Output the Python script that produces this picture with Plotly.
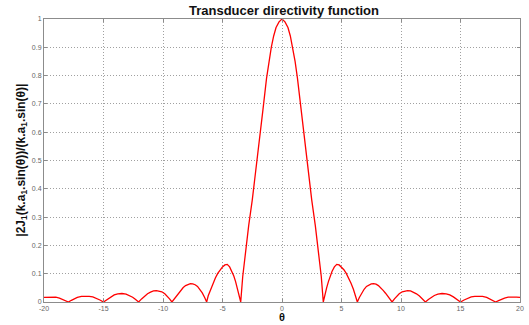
import plotly.graph_objects as go

# Directivity samples for theta >= 0 (degrees); the pattern is symmetric about 0
theta_half = [
    0.0, 0.25, 0.5, 0.7, 0.9, 1.1, 1.3, 1.6, 1.9, 2.2, 2.5, 2.8, 3.1, 3.3, 3.47,
    3.6, 3.75, 3.9, 4.05, 4.2, 4.4, 4.6, 4.8, 5.0, 5.2, 5.4, 5.6, 5.8, 6.0, 6.2, 6.33,
    6.5, 6.7, 6.9, 7.1, 7.3, 7.5, 7.7, 7.9, 8.1, 8.3, 8.5, 8.7, 8.9, 9.1, 9.25,
    9.45, 9.65, 9.85, 10.1, 10.3, 10.55, 10.8, 11.05, 11.3, 11.55, 11.8, 12.05,
    12.3, 12.55, 12.8, 13.1, 13.45, 13.8, 14.1, 14.4, 14.7, 15.0,
    15.3, 15.6, 15.9, 16.2, 16.5, 16.85, 17.2, 17.45, 17.7, 17.95,
    18.2, 18.45, 18.7, 19.0, 19.4, 19.7, 20.0,
]
directivity_half = [
    1.0, 0.99, 0.97, 0.94, 0.9, 0.85, 0.79, 0.68, 0.57, 0.46, 0.36, 0.27, 0.17, 0.09, 0.0,
    0.026, 0.05, 0.072, 0.092, 0.108, 0.124, 0.133, 0.131, 0.124, 0.114, 0.101, 0.085, 0.066, 0.045, 0.022, 0.0,
    0.016, 0.032, 0.045, 0.055, 0.061, 0.064, 0.065, 0.063, 0.058, 0.051, 0.041, 0.031, 0.019, 0.008, 0.0,
    0.011, 0.021, 0.029, 0.036, 0.039, 0.040, 0.039, 0.035, 0.029, 0.021, 0.011, 0.0,
    0.009, 0.017, 0.023, 0.028, 0.030, 0.029, 0.025, 0.018, 0.009, 0.0,
    0.007, 0.013, 0.018, 0.020, 0.021, 0.020, 0.016, 0.011, 0.006, 0.0,
    0.005, 0.010, 0.014, 0.017, 0.018, 0.017, 0.016,
]

x_ticks = [-20, -15, -10, -5, 0, 5, 10, 15, 20]
y_ticks = [0, 0.1, 0.2, 0.3, 0.4, 0.5, 0.6, 0.7, 0.8, 0.9, 1]
y_tick_text = ["0", "0.1", "0.2", "0.3", "0.4", "0.5", "0.6", "0.7", "0.8", "0.9", "1"]

title_text = "Transducer directivity function"
x_label = "θ"
y_label = "|2J<sub>1</sub>(k.a<sub>1</sub>.sin(θ))/(k.a<sub>1</sub>.sin(θ)|"

# Mirror the half pattern onto negative angles
theta = [-t for t in reversed(theta_half[1:])] + theta_half
directivity = list(reversed(directivity_half[1:])) + directivity_half

FONT = "Arial, Liberation Sans, sans-serif"

fig = go.Figure()
fig.add_trace(go.Scatter(
    x=theta, y=directivity, mode="lines",
    line=dict(color="#ff0000", width=1.3),
    hoverinfo="skip", showlegend=False,
))

axis_common = dict(
    showline=True, mirror="ticks", linecolor="#8c8c8c", linewidth=1,
    showgrid=True, gridcolor="#a0a0a0", griddash="1px,2px", gridwidth=1,
    ticks="inside", ticklen=3, tickcolor="#8c8c8c",
    tickfont=dict(family=FONT, size=7, color="#666666"),
    zeroline=False,
)

fig.update_layout(
    width=529, height=325,
    margin=dict(l=44, r=5, t=19, b=23),
    paper_bgcolor="white", plot_bgcolor="white",
    title=dict(
        text="<b>" + title_text + "</b>",
        font=dict(family=FONT, size=13, color="#111111"),
        x=(44 + 524) / 2 / 529, xanchor="center",
        y=1 - 10 / 325, yanchor="middle", yref="container",
    ),
    xaxis=dict(range=[-20, 20], tickvals=x_ticks,
               ticktext=[str(v) for v in x_ticks], **axis_common),
    yaxis=dict(range=[0, 1], tickvals=y_ticks, ticktext=y_tick_text, **axis_common),
    annotations=[
        dict(text="<b>" + y_label + "</b>", textangle=-90,
             xref="paper", yref="paper", x=-23 / 480, y=0.5,
             xanchor="center", yanchor="middle", showarrow=False,
             font=dict(family=FONT, size=12, color="#111111")),
        dict(text="<b>" + x_label + "</b>",
             xref="paper", yref="paper", x=0.5, y=-15 / 283,
             xanchor="center", yanchor="middle", showarrow=False,
             font=dict(family=FONT, size=11, color="#111111")),
    ],
)

fig.write_html("out.html")
